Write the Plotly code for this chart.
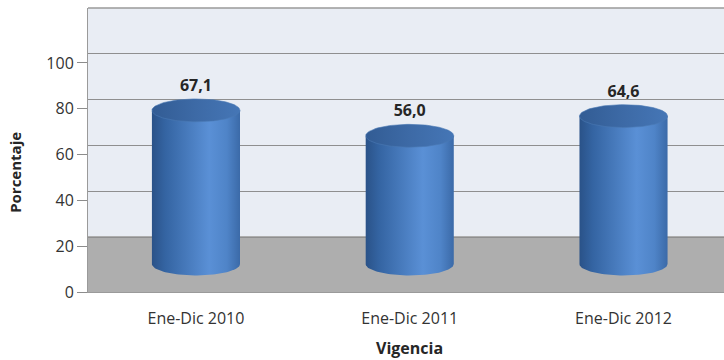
import numpy as np
import plotly.graph_objects as go

categories = ["Ene-Dic 2010", "Ene-Dic 2011", "Ene-Dic 2012"]
values = [67.1, 56.0, 64.6]
labels = ["67,1", "56,0", "64,6"]
y_ticks = [0, 20, 40, 60, 80, 100]

# styling / geometry constants (not data)
BASE = 12.2      # 3D depth offset of cylinder base (axis units)
RY = 5.0         # vertical semi-axis of cylinder caps (axis units)
HW = 0.206       # half width of cylinder (category units)
LABEL_GAP = 1.8  # extra gap above the cap for data labels (axis units)
FONT = "Open Sans"

fig = go.Figure()

t_front = np.linspace(np.pi, 2 * np.pi, 60)
t_full = np.linspace(0, 2 * np.pi, 120)

for i, (cat, v, lab) in enumerate(zip(categories, values, labels)):
    xc = i
    yb = BASE
    yt = BASE + v
    # body: rectangle + lower half of bottom ellipse
    bx = np.concatenate([[xc - HW, xc + HW, xc + HW],
                         xc + HW * np.cos(t_front[::-1]), [xc - HW]])
    by = np.concatenate([[yt, yt, yb],
                         yb + RY * np.sin(t_front[::-1]), [yt]])
    fig.add_trace(go.Scatter(
        x=bx, y=by, mode="lines", fill="toself",
        line=dict(width=0, color="rgba(0,0,0,0)"),
        fillgradient=dict(type="horizontal",
                          colorscale=[[0, "#2a5288"], [0.15, "#3464a2"],
                                      [0.65, "#5a90d6"], [0.85, "#4f84c8"],
                                      [1, "#3b6aa8"]]),
        hoverinfo="skip", showlegend=False))
    # top cap
    cx = xc + HW * np.cos(t_full)
    cy = yt + RY * np.sin(t_full)
    fig.add_trace(go.Scatter(
        x=cx, y=cy, mode="lines", fill="toself",
        line=dict(width=0.6, color="#4a78b4"),
        fillgradient=dict(type="horizontal",
                          colorscale=[[0, "#325c94"], [0.5, "#3d6aa6"],
                                      [1, "#4576b6"]]),
        hoverinfo="skip", showlegend=False))

# data labels
fig.add_trace(go.Scatter(
    x=list(range(len(categories))),
    y=[BASE + v + RY + LABEL_GAP for v in values],
    mode="text", text=labels, textposition="top center",
    textfont=dict(family=FONT, size=16, color="#262626", weight="bold"),
    hoverinfo="skip", showlegend=False))

# dummy trace on yaxis2 for the back-wall gridlines
fig.add_trace(go.Scatter(x=[0], y=[50], yaxis="y2", mode="markers",
                         marker=dict(opacity=0), hoverinfo="skip",
                         showlegend=False))

fig.update_layout(
    width=724, height=360,
    margin=dict(l=88, r=0, t=8, b=68),
    paper_bgcolor="white",
    plot_bgcolor="#e9edf4",
    xaxis=dict(range=[-0.505, 2.47], tickvals=list(range(len(categories))),
               ticktext=categories, showgrid=False, zeroline=False,
               showline=True, linecolor="#9a9a9a", linewidth=1,
               ticks="outside", ticklen=12, tickcolor="rgba(0,0,0,0)",
               tickfont=dict(family=FONT, size=16, color="#333333")),
    yaxis=dict(range=[0, 124], tickvals=y_ticks, showgrid=False,
               zeroline=False, showline=True, linecolor="#9a9a9a",
               linewidth=1, ticks="outside", ticklen=10, tickcolor="#8c8c8c",
               tickfont=dict(family=FONT, size=16, color="#333333")),
    yaxis2=dict(range=[-4, 120], overlaying="y", side="right",
                tickvals=[20, 40, 60, 80, 100, 120], showticklabels=False,
                showgrid=True, gridcolor="#8f8f8f", gridwidth=1,
                zeroline=False, showline=False, ticks=""),
    shapes=[dict(type="rect", xref="paper", yref="y", x0=0, x1=1,
                 y0=0, y1=24.5, fillcolor="#aeaeae", line=dict(width=0),
                 layer="between"),
            dict(type="line", xref="paper", yref="paper", x0=0, x1=1,
                 y0=1, y1=1, line=dict(color="#9a9a9a", width=1.5))],
    annotations=[
        dict(text="<b>Vigencia</b>", xref="paper", yref="paper",
             x=0.506, y=-0.197, xanchor="center", yanchor="middle",
             showarrow=False,
             font=dict(family=FONT, size=16, color="#262626")),
        dict(text="<b>Porcentaje</b>", xref="paper", yref="paper",
             x=-0.115, y=0.4225, xanchor="center", yanchor="middle",
             textangle=-90, showarrow=False,
             font=dict(family=FONT, size=15, color="#262626")),
    ],
)

fig.write_html("out.html")
